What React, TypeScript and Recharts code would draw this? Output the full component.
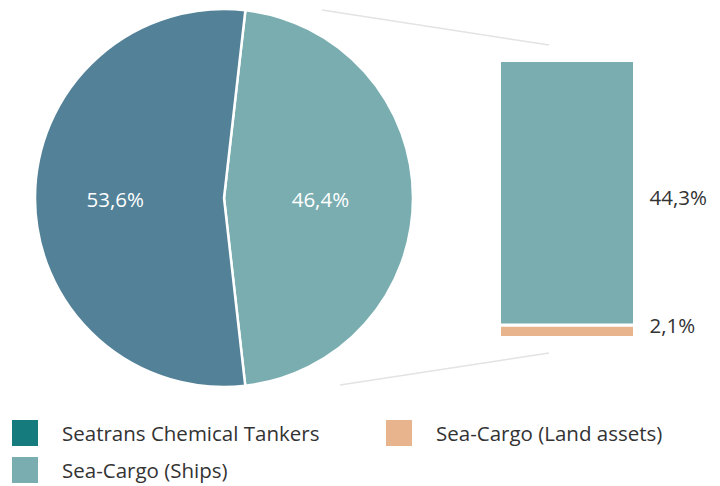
import React from "react";
import { PieChart, Pie, Cell, BarChart, Bar, XAxis, YAxis, LabelList, Legend } from "recharts";

// pie: the Sea-Cargo slice is split out into the bar on the right
const pieNames = ["Sea-Cargo", "Seatrans Chemical Tankers"];
const pieValues = [46.4, 53.6];
const pieColors = ["#7aadb0", "#528198"];

const barCategories = ["Sea-Cargo"];
const landValues = [2.1];
const shipsValues = [44.3];

const legendNames = ["Seatrans Chemical Tankers", "Sea-Cargo (Land assets)", "Sea-Cargo (Ships)"];
const legendColors = ["#167b7d", "#e8b48e", "#7aadb0"];

const FONT = "'Open Sans', 'Noto Sans', sans-serif";
const FS = 20.5;
const W = 720;
const H = 486;

const fmt = (v: number) => `${v.toFixed(1).replace(".", ",")}%`;

const pieData = pieNames.map((name, i) => ({ name, value: pieValues[i] }));
const barData = barCategories.map((name, i) => ({ name, land: landValues[i], ships: shipsValues[i] }));

function PieLabel(p: any) {
  const rad = Math.PI / 180;
  const r = p.outerRadius * (p.index === 0 ? 0.51 : 0.575);
  const x = p.cx + r * Math.cos(-p.midAngle * rad);
  const y = p.cy + r * Math.sin(-p.midAngle * rad);
  return (
    <text x={x} y={y + 1} fill="#fff" textAnchor="middle" dominantBaseline="central" fontSize={FS} fontFamily={FONT}>
      {fmt(p.value)}
    </text>
  );
}

// bar value labels sit to the right of each stacked segment
function BarLabel(p: any) {
  const small = p.height < 40;
  return (
    <text
      x={p.x + p.width + 15}
      y={p.y + p.height / 2 + (small ? -6 : 4)}
      fill="#333"
      fontSize={FS}
      fontFamily={FONT}
      dominantBaseline="central"
    >
      {fmt(Number(p.value))}
    </text>
  );
}

function LegendBox() {
  const order = [0, 1, 2];
  return (
    <div style={{ position: "relative", height: 70, fontFamily: FONT, fontSize: FS, color: "#333" }}>
      {order.map((i) => {
        const col = i === 1 ? 1 : 0;
        const row = i === 2 ? 1 : 0;
        return (
          <div
            key={legendNames[i]}
            style={{ position: "absolute", left: 12 + col * 374, top: row * 37, display: "flex", alignItems: "center" }}
          >
            <span style={{ width: 26, height: 26, background: legendColors[i], display: "inline-block" }} />
            <span style={{ marginLeft: 24, lineHeight: "26px" }}>{legendNames[i]}</span>
          </div>
        );
      })}
    </div>
  );
}

export default function App() {
  return (
    <div style={{ position: "absolute", left: 0, top: 0, width: W, height: H, background: "#fff" }}>
      <div style={{ position: "absolute", left: 0, top: 0 }}>
        <PieChart width={W} height={H} margin={{ top: 0, right: 0, bottom: 0, left: 0 }}>
          <Pie
            data={pieData}
            dataKey="value"
            nameKey="name"
            cx={224}
            cy={198}
            outerRadius={189}
            startAngle={83.5}
            endAngle={-276.5}
            stroke="#fff"
            strokeWidth={2.5}
            label={PieLabel}
            labelLine={false}
            isAnimationActive={false}
          >
            {pieData.map((d, i) => (
              <Cell key={d.name} fill={pieColors[i]} />
            ))}
          </Pie>
          <Legend
            verticalAlign="bottom"
            wrapperStyle={{ left: 0, top: 420, width: W }}
            content={() => <LegendBox />}
          />
        </PieChart>
      </div>
      <div style={{ position: "absolute", left: 0, top: 0 }}>
        <BarChart
          width={W}
          height={H}
          data={barData}
          margin={{ top: 60.5, bottom: 148.5, left: 499.5, right: 85.5 }}
          barCategoryGap={0}
        >
          <XAxis dataKey="name" hide />
          <YAxis hide domain={[0, 46.4]} />
          <Bar dataKey="land" stackId="a" fill={legendColors[1]} stroke="#fff" strokeWidth={3} isAnimationActive={false}>
            <LabelList dataKey="land" content={BarLabel} />
          </Bar>
          <Bar dataKey="ships" stackId="a" fill={legendColors[2]} stroke="#fff" strokeWidth={3} isAnimationActive={false}>
            <LabelList dataKey="ships" content={BarLabel} />
          </Bar>
        </BarChart>
      </div>
      <svg width={W} height={H} style={{ position: "absolute", left: 0, top: 0, pointerEvents: "none" }}>
        <line x1={322} y1={10} x2={549} y2={45} stroke="#e3e3e3" strokeWidth={1.5} />
        <line x1={340} y1={385} x2={549} y2={353} stroke="#e3e3e3" strokeWidth={1.5} />
      </svg>
    </div>
  );
}
